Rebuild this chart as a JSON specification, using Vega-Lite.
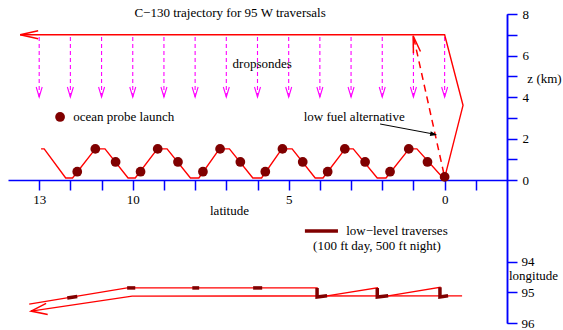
{
  "$schema": "https://vega.github.io/schema/vega-lite/v6.json",
  "width": 499,
  "height": 309,
  "autosize": {"type": "none"},
  "padding": {"left": 8, "top": 14, "right": 56, "bottom": 7},
  "background": "white",
  "config": {
    "view": {"stroke": null},
    "font": "Liberation Serif",
    "axis": {"labelFont": "Liberation Serif", "titleFont": "Liberation Serif"}
  },
  "datasets": {
    "sondes": [
      {"lat": 13, "z": 4, "z2": 7}, {"lat": 12, "z": 4, "z2": 7}, {"lat": 11, "z": 4, "z2": 7},
      {"lat": 10, "z": 4, "z2": 7}, {"lat": 9, "z": 4, "z2": 7}, {"lat": 8, "z": 4, "z2": 7},
      {"lat": 7, "z": 4, "z2": 7}, {"lat": 6, "z": 4, "z2": 7}, {"lat": 5, "z": 4, "z2": 7},
      {"lat": 4, "z": 4, "z2": 7}, {"lat": 3, "z": 4, "z2": 7}, {"lat": 2, "z": 4, "z2": 7},
      {"lat": 1, "z": 4, "z2": 7}, {"lat": 0, "z": 4, "z2": 7}
    ],
    "redz": [
      {"part": "upper", "seq": 1, "lat": 0, "z": 0.1},
      {"part": "upper", "seq": 2, "lat": -0.59, "z": 3.6},
      {"part": "upper", "seq": 3, "lat": 0, "z": 7},
      {"part": "upper", "seq": 4, "lat": 13.61, "z": 7},
      {"part": "wave", "seq": 1, "lat": 12.94, "z": 1.5},
      {"part": "wave", "seq": 2, "lat": 12.84, "z": 1.5},
      {"part": "wave", "seq": 3, "lat": 12.15, "z": 0.1},
      {"part": "wave", "seq": 4, "lat": 11.93, "z": 0.1},
      {"part": "wave", "seq": 5, "lat": 11.2, "z": 1.5},
      {"part": "wave", "seq": 6, "lat": 10.89, "z": 1.5},
      {"part": "wave", "seq": 7, "lat": 10.15, "z": 0.1},
      {"part": "wave", "seq": 8, "lat": 9.92, "z": 0.1},
      {"part": "wave", "seq": 9, "lat": 9.21, "z": 1.5},
      {"part": "wave", "seq": 10, "lat": 8.9, "z": 1.5},
      {"part": "wave", "seq": 11, "lat": 8.15, "z": 0.1},
      {"part": "wave", "seq": 12, "lat": 7.88, "z": 0.1},
      {"part": "wave", "seq": 13, "lat": 7.22, "z": 1.5},
      {"part": "wave", "seq": 14, "lat": 6.9, "z": 1.5},
      {"part": "wave", "seq": 15, "lat": 6.15, "z": 0.1},
      {"part": "wave", "seq": 16, "lat": 5.87, "z": 0.1},
      {"part": "wave", "seq": 17, "lat": 5.22, "z": 1.5},
      {"part": "wave", "seq": 18, "lat": 4.89, "z": 1.5},
      {"part": "wave", "seq": 19, "lat": 4.15, "z": 0.1},
      {"part": "wave", "seq": 20, "lat": 3.9, "z": 0.1},
      {"part": "wave", "seq": 21, "lat": 3.19, "z": 1.5},
      {"part": "wave", "seq": 22, "lat": 2.93, "z": 1.5},
      {"part": "wave", "seq": 23, "lat": 2.16, "z": 0.1},
      {"part": "wave", "seq": 24, "lat": 1.88, "z": 0.1},
      {"part": "wave", "seq": 25, "lat": 1.14, "z": 1.5},
      {"part": "wave", "seq": 26, "lat": 0.89, "z": 1.5},
      {"part": "wave", "seq": 27, "lat": 0.05, "z": 0.1}
    ],
    "lowfuel": [
      {"lat": 0, "z": 0.14},
      {"lat": 0.99, "z": 6.85}
    ],
    "probes": [
      {"lat": 11.78, "z": 0.4}, {"lat": 11.2, "z": 1.5}, {"lat": 10.55, "z": 0.87},
      {"lat": 9.75, "z": 0.4}, {"lat": 9.2, "z": 1.5}, {"lat": 8.55, "z": 0.87},
      {"lat": 7.75, "z": 0.4}, {"lat": 7.2, "z": 1.5}, {"lat": 6.55, "z": 0.87},
      {"lat": 5.75, "z": 0.4}, {"lat": 5.2, "z": 1.5}, {"lat": 4.55, "z": 0.87},
      {"lat": 3.75, "z": 0.4}, {"lat": 3.2, "z": 1.5}, {"lat": 2.55, "z": 0.87},
      {"lat": 1.75, "z": 0.4}, {"lat": 1.15, "z": 1.5}, {"lat": 0.55, "z": 0.87},
      {"lat": 0.0, "z": 0.15},
      {"lat": 12.33, "z": 3.04}
    ],
    "annot": [
      {"lat": 2.07, "z": 2.7},
      {"lat": 0.3, "z": 2.2}
    ],
    "textsz": [
      {"lat": 6.88, "z": 8.05, "text": "C\u2212130 trajectory for 95 W traversals"},
      {"lat": 5.85, "z": 5.59, "text": "dropsondes"},
      {"lat": 10.29, "z": 3.04, "text": "ocean probe launch"},
      {"lat": 2.9, "z": 3.04, "text": "low fuel alternative"},
      {"lat": 1.53, "z": -2.46, "text": "low\u2212level traverses"},
      {"lat": 2.17, "z": -3.2, "text": "(100 ft day, 500 ft night)"}
    ],
    "legendline": [
      {"lat": 4.48, "lat2": 3.42, "z": -2.46}
    ],
    "plan": [
      {"part": "out", "seq": 1, "lat": -0.56, "lon": 95.11},
      {"part": "out", "seq": 2, "lat": 10.02, "lon": 95.12},
      {"part": "out", "seq": 3, "lat": 13.26, "lon": 95.61},
      {"part": "ret", "seq": 1, "lat": 13.32, "lon": 95.38},
      {"part": "ret", "seq": 2, "lat": 10.18, "lon": 94.85},
      {"part": "ret", "seq": 3, "lat": 4.09, "lon": 94.85},
      {"part": "ret", "seq": 4, "lat": 4.09, "lon": 95.15},
      {"part": "ret", "seq": 5, "lat": 3.77, "lon": 95.11},
      {"part": "ret", "seq": 6, "lat": 2.16, "lon": 94.85},
      {"part": "ret", "seq": 7, "lat": 2.16, "lon": 95.15},
      {"part": "ret", "seq": 8, "lat": 1.81, "lon": 95.11},
      {"part": "ret", "seq": 9, "lat": 0.15, "lon": 94.83},
      {"part": "ret", "seq": 10, "lat": 0.15, "lon": 95.15},
      {"part": "ret", "seq": 11, "lat": -0.11, "lon": 95.11}
    ],
    "lowlev": [
      {"seg": "s1", "seq": 1, "lat": 12.1, "lon": 95.18},
      {"seg": "s1", "seq": 2, "lat": 11.78, "lon": 95.13},
      {"seg": "s2", "seq": 1, "lat": 10.18, "lon": 94.85},
      {"seg": "s2", "seq": 2, "lat": 9.92, "lon": 94.85},
      {"seg": "s3", "seq": 1, "lat": 8.09, "lon": 94.85},
      {"seg": "s3", "seq": 2, "lat": 7.87, "lon": 94.85},
      {"seg": "s4", "seq": 1, "lat": 6.14, "lon": 94.85},
      {"seg": "s4", "seq": 2, "lat": 5.85, "lon": 94.85},
      {"seg": "s5", "seq": 1, "lat": 4.09, "lon": 94.85},
      {"seg": "s5", "seq": 2, "lat": 4.09, "lon": 95.15},
      {"seg": "s5", "seq": 3, "lat": 3.77, "lon": 95.11},
      {"seg": "s6", "seq": 1, "lat": 2.16, "lon": 94.85},
      {"seg": "s6", "seq": 2, "lat": 2.16, "lon": 95.15},
      {"seg": "s6", "seq": 3, "lat": 1.81, "lon": 95.11},
      {"seg": "s7", "seq": 1, "lat": 0.15, "lon": 94.83},
      {"seg": "s7", "seq": 2, "lat": 0.15, "lon": 95.15},
      {"seg": "s7", "seq": 3, "lat": -0.11, "lon": 95.11}
    ]
  },
  "encoding": {
    "x": {
      "field": "lat",
      "type": "quantitative",
      "scale": {"domain": [-2, 14], "reverse": true, "nice": false, "zero": false},
      "axis": {
        "orient": "bottom",
        "offset": -143,
        "values": [13, 12, 11, 10, 9, 8, 7, 6, 5, 4, 3, 2, 1, 0, -1],
        "labelExpr": "indexof([13, 10, 5, 0], datum.value) >= 0 ? datum.label : ''",
        "grid": false,
        "domainColor": "#0000ff",
        "domainWidth": 1.5,
        "tickColor": "#0000ff",
        "tickWidth": 1.5,
        "tickSize": 10,
        "labelPadding": 3,
        "labelFont": "Liberation Serif",
        "labelFontSize": 13,
        "labelColor": "black",
        "labelOverlap": false,
        "labelBound": false,
        "title": "latitude",
        "titleX": 221,
        "titleY": 30,
        "titleAlign": "center",
        "titleBaseline": "middle",
        "titleFont": "Liberation Serif",
        "titleFontSize": 13,
        "titleFontWeight": "normal",
        "titleColor": "black"
      }
    }
  },
  "layer": [
    {
      "encoding": {
        "y": {
          "field": "z",
          "type": "quantitative",
          "scale": {"domain": [-6.89, 8], "nice": false, "zero": false},
          "axis": {
            "orient": "right",
            "values": [0, 1, 2, 3, 4, 5, 6, 7, 8],
            "labelExpr": "datum.value % 2 === 0 ? datum.label : ''",
            "grid": false,
            "domainColor": "#0000ff",
            "domainWidth": 1.5,
            "tickColor": "#0000ff",
            "tickWidth": 1.5,
            "tickSize": 10,
            "labelPadding": 5,
            "labelFont": "Liberation Serif",
            "labelFontSize": 13,
            "labelColor": "black",
            "labelOverlap": false,
            "labelBound": false,
            "title": "z (km)",
            "titleAngle": 0,
            "titleX": 37,
            "titleY": 64,
            "titleAlign": "center",
            "titleBaseline": "middle",
            "titleFont": "Liberation Serif",
            "titleFontSize": 13,
            "titleFontWeight": "normal",
            "titleColor": "black"
          }
        }
      },
      "layer": [
        {
          "data": {"name": "sondes"},
          "mark": {"type": "rule", "color": "#ff00ff", "strokeWidth": 1.1, "strokeDash": [4, 3]},
          "encoding": {"y2": {"field": "z2"}}
        },
        {
          "data": {"name": "sondes"},
          "mark": {"type": "point", "shape": "M-1.5,-5L0,0L1.5,-5", "size": 16, "filled": false, "color": "#ff00ff", "strokeWidth": 1.1, "opacity": 1},
          "encoding": {}
        },
        {
          "data": {"name": "redz"},
          "mark": {"type": "line", "color": "#ff0000", "strokeWidth": 1.4},
          "encoding": {
            "detail": {"field": "part"},
            "order": {"field": "seq", "type": "quantitative"}
          }
        },
        {
          "data": {"values": [{"lat": 13.61, "z": 7}]},
          "mark": {"type": "point", "shape": "M4.5,-1L0,0L4.5,1", "size": 64, "filled": false, "color": "#ff0000", "strokeWidth": 1.5, "opacity": 1},
          "encoding": {}
        },
        {
          "data": {"name": "lowfuel"},
          "mark": {"type": "line", "color": "#ff0000", "strokeWidth": 1.5, "strokeDash": [7, 5]},
          "encoding": {}
        },
        {
          "data": {"values": [{"lat": 1.01, "z": 6.95}]},
          "mark": {"type": "point", "shape": "M-0.9,4.25L0,0L0.9,4.25", "size": 64, "angle": -13, "filled": false, "color": "#ff0000", "strokeWidth": 1.5, "opacity": 1},
          "encoding": {}
        },
        {
          "data": {"name": "probes"},
          "mark": {"type": "circle", "color": "#800000", "size": 95, "opacity": 1},
          "encoding": {}
        },
        {
          "data": {"name": "annot"},
          "mark": {"type": "line", "color": "black", "strokeWidth": 1},
          "encoding": {}
        },
        {
          "data": {"values": [{"lat": 0.24, "z": 2.17}]},
          "mark": {"type": "point", "shape": "M0,0L-3.5,-1.2L-3.5,1.2Z", "size": 16, "angle": 11, "filled": true, "color": "black", "opacity": 1},
          "encoding": {}
        },
        {
          "data": {"name": "legendline"},
          "mark": {"type": "rule", "color": "#800000", "strokeWidth": 3.5},
          "encoding": {"x2": {"field": "lat2"}}
        },
        {
          "data": {"name": "textsz"},
          "mark": {"type": "text", "font": "Liberation Serif", "fontSize": 13, "color": "black", "align": "center", "baseline": "middle"},
          "encoding": {"text": {"field": "text"}}
        }
      ]
    },
    {
      "encoding": {
        "y": {
          "field": "lon",
          "type": "quantitative",
          "scale": {"domain": [85.87, 96], "reverse": true, "nice": false, "zero": false},
          "axis": {
            "orient": "right",
            "values": [94, 95, 96],
            "grid": false,
            "domainColor": "#0000ff",
            "domainWidth": 1.5,
            "tickColor": "#0000ff",
            "tickWidth": 1.5,
            "tickSize": 10,
            "labelPadding": 4,
            "labelFont": "Liberation Serif",
            "labelFontSize": 13,
            "labelColor": "black",
            "labelOverlap": false,
            "labelBound": false,
            "title": "longitude",
            "titleAngle": 0,
            "titleX": 26,
            "titleY": 261.5,
            "titleAlign": "center",
            "titleBaseline": "middle",
            "titleFont": "Liberation Serif",
            "titleFontSize": 13,
            "titleFontWeight": "normal",
            "titleColor": "black"
          }
        }
      },
      "layer": [
        {
          "data": {"name": "plan"},
          "mark": {"type": "line", "color": "#ff0000", "strokeWidth": 1.4},
          "encoding": {
            "detail": {"field": "part"},
            "order": {"field": "seq", "type": "quantitative"}
          }
        },
        {
          "data": {"name": "lowlev"},
          "mark": {"type": "line", "color": "#800000", "strokeWidth": 3.5},
          "encoding": {
            "detail": {"field": "seg"},
            "order": {"field": "seq", "type": "quantitative"}
          }
        },
        {
          "data": {"values": [{"lat": 13.26, "lon": 95.61}]},
          "mark": {"type": "point", "shape": "M4,-1.4L0,0L4,1.4", "size": 64, "angle": -8, "filled": false, "color": "#ff0000", "strokeWidth": 1.5, "opacity": 1},
          "encoding": {}
        }
      ]
    }
  ],
  "resolve": {"scale": {"y": "independent"}, "axis": {"y": "independent"}}
}
